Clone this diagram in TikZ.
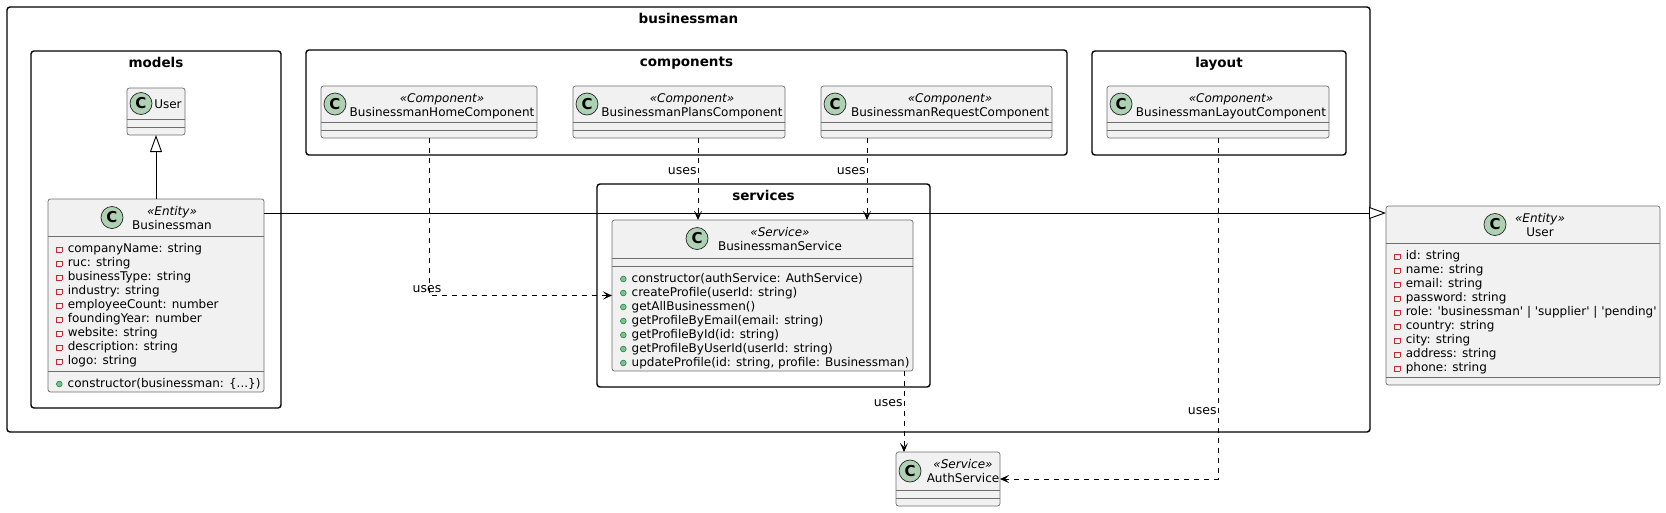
\documentclass[tikz,border=0pt]{standalone}
\usepackage{fontspec}
\setmainfont{DejaVu Sans}
\usepackage{xcolor}
\usepackage{tikz}
\definecolor{clsfill}{RGB}{241,241,241}
\definecolor{clsline}{RGB}{110,110,110}
\definecolor{iconfill}{RGB}{173,209,178}
\definecolor{privred}{RGB}{200,41,48}
\definecolor{pubfill}{RGB}{132,190,132}
\definecolor{publine}{RGB}{3,128,72}
\usetikzlibrary{arrows.meta, positioning}
\newcommand{\pvmark}{\textcolor{privred}{\setlength{\fboxsep}{0pt}\setlength{\fboxrule}{0.7pt}\fbox{\rule{0pt}{4.8pt}\rule{4.8pt}{0pt}}}\hspace{5.4pt}}
\newcommand{\pbmark}{\tikz[baseline=0pt]\draw[publine, fill=pubfill, line width=0.5pt] (3pt,3pt) circle (2.9pt);\hspace{5.2pt}}

\begin{document}
\begin{tikzpicture}[x=1pt, y=-1pt,
    pkg/.style={draw, line width=1.4pt, rounded corners=3pt, anchor=north west, inner sep=0pt, outer sep=0pt},
    pkgtitle/.style={anchor=base, inner sep=0pt, font=\bfseries\fontsize{13.5}{16}\selectfont},
    cls/.style={draw=clsline, fill=clsfill, line width=0.7pt, rounded corners=2.5pt, anchor=north west, inner sep=0pt, outer sep=0pt},
    icon/.style={circle, draw=black!85, fill=iconfill, line width=0.7pt, minimum size=22pt, inner sep=0pt, font=\bfseries\fontsize{15}{15}\selectfont},
    clsname/.style={anchor=base, inner sep=0pt, font=\fontsize{12}{14}\selectfont},
    stereo/.style={anchor=base, inner sep=0pt, font=\itshape\fontsize{12}{14}\selectfont},
    member/.style={anchor=base west, inner sep=0pt, font=\fontsize{12}{14}\selectfont},
    cmpline/.style={draw=clsline, line width=0.7pt},
    dep/.style={draw, line width=0.9pt, dash pattern=on 5pt off 5pt, -{Stealth[length=9pt, width=8pt, inset=4pt]}},
    inherit/.style={draw, line width=0.9pt, -{Triangle[open, fill=white, length=17pt, width=12pt]}},
    useslbl/.style={inner sep=0pt, font=\fontsize{12.5}{14}\selectfont}
]
    \useasboundingbox (0,0) rectangle (1666,512);

    % packages
    \node[pkg, minimum width=1363pt, minimum height=425pt] (pbiz) at (7,7) {};
    \node[pkgtitle] at ([yshift=-16pt]pbiz.north) {businessman};
    \node[pkg, minimum width=250pt, minimum height=357pt] (pmod) at (31,51) {};
    \node[pkgtitle] at ([yshift=-16pt]pmod.north) {models};
    \node[pkg, minimum width=761pt, minimum height=105pt] (pcomp) at (306,50) {};
    \node[pkgtitle] at ([yshift=-16pt]pcomp.north) {components};
    \node[pkg, minimum width=254pt, minimum height=104pt] (play) at (1092,51) {};
    \node[pkgtitle] at ([yshift=-16pt]play.north) {layout};
    \node[pkg, minimum width=333pt, minimum height=203pt] (psvc) at (597,184) {};
    \node[pkgtitle] at ([yshift=-16pt]psvc.north) {services};

    % models
    \node[cls, minimum width=58pt, minimum height=47pt] (mdluser) at (127,88) {};
    \node[icon] at (141,103.5) {C};
    \node[clsname] at (168,108) {User};
    \draw[cmpline] ([yshift=-31pt]mdluser.north west) -- ([yshift=-31pt]mdluser.north east);
    \draw[cmpline] ([yshift=-39pt]mdluser.north west) -- ([yshift=-39pt]mdluser.north east);

    \node[cls, minimum width=216pt, minimum height=193pt] (bizman) at (48,199) {};
    \node[icon] at (112,217.5) {C};
    \node[stereo] at (172,215) {«Entity»};
    \node[clsname] at (172,229) {Businessman};
    \draw[cmpline] ([yshift=-37pt]bizman.north west) -- ([yshift=-37pt]bizman.north east);
    \draw[cmpline] ([yshift=-172pt]bizman.north west) -- ([yshift=-172pt]bizman.north east);
    \foreach \m [count=\i from 0] in {companyName: string, ruc: string, businessType: string, industry: string, employeeCount: number, foundingYear: number, website: string, description: string, logo: string}
        \node[member] at (56,252+14*\i) {\pvmark\m};
    \node[member] at (56,387) {\pbmark constructor(businessman: \{...\})};

    % components
    \node[cls, minimum width=216pt, minimum height=52pt] (homecmp) at (321,86) {};
    \node[icon] at (335,104) {C};
    \node[stereo] at (442,102) {«Component»};
    \node[clsname] at (442,116) {BusinessmanHomeComponent};
    \draw[cmpline] ([yshift=-36pt]homecmp.north west) -- ([yshift=-36pt]homecmp.north east);
    \draw[cmpline] ([yshift=-44pt]homecmp.north west) -- ([yshift=-44pt]homecmp.north east);

    \node[cls, minimum width=212pt, minimum height=52pt] (planscmp) at (573,86) {};
    \node[icon] at (587,104) {C};
    \node[stereo] at (692,102) {«Component»};
    \node[clsname] at (692,116) {BusinessmanPlansComponent};
    \draw[cmpline] ([yshift=-36pt]planscmp.north west) -- ([yshift=-36pt]planscmp.north east);
    \draw[cmpline] ([yshift=-44pt]planscmp.north west) -- ([yshift=-44pt]planscmp.north east);

    \node[cls, minimum width=231pt, minimum height=52pt] (reqcmp) at (821,86) {};
    \node[icon] at (835,104) {C};
    \node[stereo] at (950,102) {«Component»};
    \node[clsname] at (950,116) {BusinessmanRequestComponent};
    \draw[cmpline] ([yshift=-36pt]reqcmp.north west) -- ([yshift=-36pt]reqcmp.north east);
    \draw[cmpline] ([yshift=-44pt]reqcmp.north west) -- ([yshift=-44pt]reqcmp.north east);

    % layout
    \node[cls, minimum width=222pt, minimum height=52pt] (laycmp) at (1107,86) {};
    \node[icon] at (1121,104) {C};
    \node[stereo] at (1231,102) {«Component»};
    \node[clsname] at (1231,116) {BusinessmanLayoutComponent};
    \draw[cmpline] ([yshift=-36pt]laycmp.north west) -- ([yshift=-36pt]laycmp.north east);
    \draw[cmpline] ([yshift=-44pt]laycmp.north west) -- ([yshift=-44pt]laycmp.north east);

    % services
    \node[cls, minimum width=301pt, minimum height=151pt] (bizsvc) at (612,220) {};
    \node[icon] at (697,238.5) {C};
    \node[stereo] at (780,236) {«Service»};
    \node[clsname] at (780,250) {BusinessmanService};
    \draw[cmpline] ([yshift=-38pt]bizsvc.north west) -- ([yshift=-38pt]bizsvc.north east);
    \draw[cmpline] ([yshift=-46pt]bizsvc.north west) -- ([yshift=-46pt]bizsvc.north east);
    \foreach \m [count=\i from 0] in {constructor(authService: AuthService), createProfile(userId: string), getAllBusinessmen(), getProfileByEmail(email: string), getProfileById(id: string), getProfileByUserId(userId: string), {updateProfile(id: string, profile: Businessman)}}
        \node[member] at (620,282+14*\i) {\pbmark\m};

    % outside
    \node[cls, minimum width=104pt, minimum height=54pt] (authsvc) at (896,452) {};
    \node[icon] at (910,471) {C};
    \node[stereo] at (963,468) {«Service»};
    \node[clsname] at (963,482) {AuthService};
    \draw[cmpline] ([yshift=-38pt]authsvc.north west) -- ([yshift=-38pt]authsvc.north east);
    \draw[cmpline] ([yshift=-46pt]authsvc.north west) -- ([yshift=-46pt]authsvc.north east);

    \node[cls, minimum width=274pt, minimum height=179pt] (entuser) at (1386,206) {};
    \node[icon] at (1495,224.5) {C};
    \node[stereo] at (1540,222) {«Entity»};
    \node[clsname] at (1540,236) {User};
    \draw[cmpline] ([yshift=-37pt]entuser.north west) -- ([yshift=-37pt]entuser.north east);
    \draw[cmpline] ([yshift=-171pt]entuser.north west) -- ([yshift=-171pt]entuser.north east);
    \foreach \m [count=\i from 0] in {id: string, name: string, email: string, password: string, role: \textquotesingle{}businessman\textquotesingle{} | \textquotesingle{}supplier\textquotesingle{} | \textquotesingle{}pending\textquotesingle{}, country: string, city: string, address: string, phone: string}
        \node[member] at (1394,259+14*\i) {\pvmark\m};

    % relations
    \draw[inherit] (bizman.north) -- (mdluser.south);
    \draw[inherit] ([yshift=-14pt]bizman.north east) -- ([yshift=-7pt]entuser.north west);
    \draw[dep] (homecmp.south) |- node[useslbl, pos=0.5, anchor=base, xshift=-2pt, yshift=3.5pt] {uses} (bizsvc.west);
    \draw[dep] ([xshift=19pt]planscmp.south) -- node[useslbl, pos=0.445, anchor=base east, xshift=-1pt] {uses} ([xshift=19pt]planscmp.south |- bizsvc.north);
    \draw[dep] ([xshift=-69.5pt]reqcmp.south) -- node[useslbl, pos=0.445, anchor=base east, xshift=-1pt] {uses} ([xshift=-69.5pt]reqcmp.south |- bizsvc.north);
    \draw[dep] ([xshift=141.5pt]bizsvc.south) -- node[useslbl, pos=0.44, anchor=base east, xshift=-1pt] {uses} ([xshift=141.5pt]bizsvc.south |- authsvc.north);
    \draw[dep] (laycmp.south) |- node[useslbl, pos=0.405, anchor=base east, xshift=-1pt] {uses} (authsvc.east);
\end{tikzpicture}
\end{document}
